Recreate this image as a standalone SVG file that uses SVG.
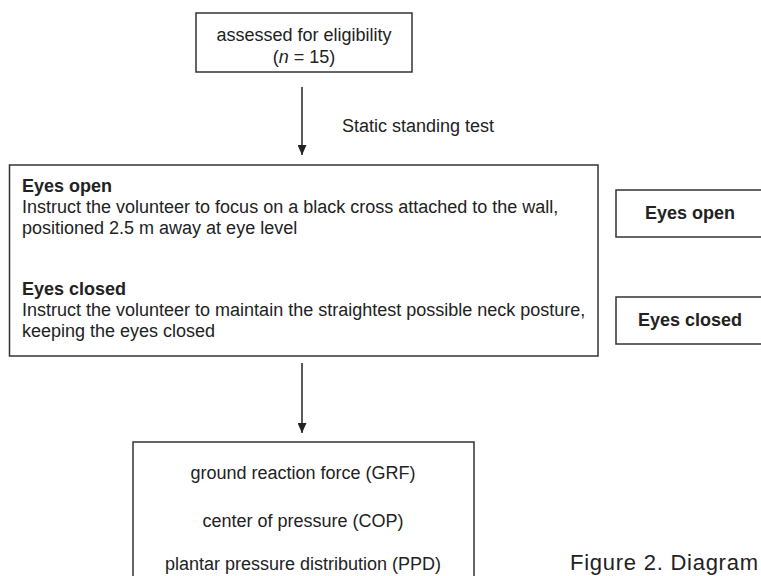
<svg xmlns="http://www.w3.org/2000/svg" width="761" height="576" viewBox="0 0 761 576">
<defs>
<marker id="ah" markerWidth="10" markerHeight="9" refX="10" refY="4.5" orient="auto" markerUnits="userSpaceOnUse">
<path d="M0,0 L10,4.5 L0,9 Z" fill="#222"/>
</marker>
<style>
.box{fill:#fff;stroke:#333;stroke-width:1.5}
.t{font-family:"Liberation Sans",Arial,Helvetica,sans-serif;font-size:18px;fill:#222}
.b{font-weight:bold}
.c{text-anchor:middle}
.conn{stroke:#222;stroke-width:1.5;fill:none}
</style>
</defs>
<rect width="761" height="576" fill="#fff"/>
<g id="node-eligibility">
<rect class="box" x="196" y="13" width="216" height="59"/>
<text class="t c" x="304" y="41">assessed for eligibility</text>
<text class="t c" x="304" y="63">(<tspan font-style="italic">n</tspan> = 15)</text>
</g>
<g id="node-test">
<rect class="box" x="9.5" y="165" width="588.5" height="191"/>
<text class="t b" x="22" y="192">Eyes open</text>
<text class="t" x="22" y="213">Instruct the volunteer to focus on a black cross attached to the wall,</text>
<text class="t" x="22" y="234">positioned 2.5 m away at eye level</text>
<text class="t b" x="22" y="295">Eyes closed</text>
<text class="t" x="22" y="316">Instruct the volunteer to maintain the straightest possible neck posture,</text>
<text class="t" x="22" y="337">keeping the eyes closed</text>
</g>
<g id="node-eyes-open">
<rect class="box" x="616" y="190" width="160" height="47"/>
<text class="t b c" x="690" y="219">Eyes open</text>
</g>
<g id="node-eyes-closed">
<rect class="box" x="616" y="297" width="160" height="47"/>
<text class="t b c" x="690" y="326">Eyes closed</text>
</g>
<g id="node-measures">
<rect class="box" x="133" y="442" width="341" height="150"/>
<text class="t c" x="303" y="479">ground reaction force (GRF)</text>
<text class="t c" x="303" y="527">center of pressure (COP)</text>
<text class="t c" x="303" y="570">plantar pressure distribution (PPD)</text>
</g>
<g id="connectors">
<line class="conn" x1="302" y1="87" x2="302" y2="155" marker-end="url(#ah)"/>
<line class="conn" x1="302" y1="363" x2="302" y2="433" marker-end="url(#ah)"/>
</g>
<text class="t" x="570" y="570" style="font-size:22px" textLength="188" lengthAdjust="spacing">Figure 2. Diagram</text>
<text class="t" x="342" y="132">Static standing test</text>
</svg>
